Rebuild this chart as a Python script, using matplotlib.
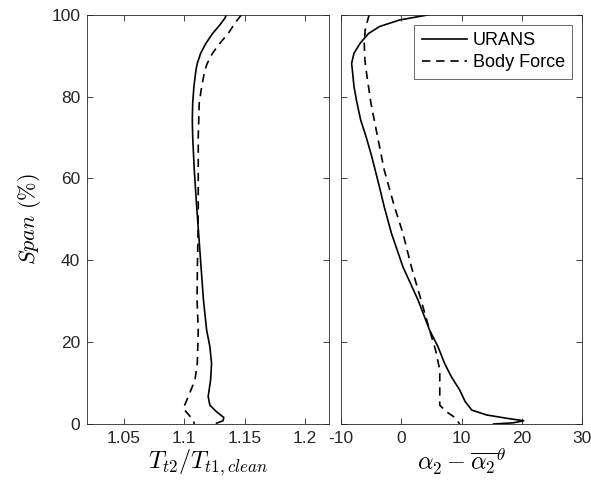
import matplotlib
matplotlib.use("Agg")
import matplotlib.pyplot as plt

plt.rcParams['font.family'] = ['Liberation Sans', 'DejaVu Sans']
plt.rcParams['mathtext.fontset'] = 'cm'
plt.rcParams['axes.unicode_minus'] = False

# Left panel: total temperature ratio
span_tt_urans = [100, 99.1, 97.5, 95.4, 93.0, 90.6, 88.1, 86.5, 82.4, 78.4, 74.3, 70.2, 62.1, 53.1, 46.6, 38.4, 30.3,
                 23.0, 18.9, 14.8, 10.8, 6.7, 4.6, 3.0, 1.6, 0.8, 0.2]
tt_urans = [1.135, 1.1336, 1.1295, 1.1235, 1.118, 1.1137, 1.1109, 1.1098, 1.1081, 1.1071, 1.1068, 1.1071, 1.1084,
            1.1104, 1.112, 1.114, 1.116, 1.1186, 1.1213, 1.1227, 1.1219, 1.1199, 1.1213, 1.1268, 1.1328, 1.1322, 1.1268]
span_tt_bf = [100, 97.9, 95.4, 93.0, 90.6, 88.1, 86.5, 82.4, 78.4, 70.2, 62.1, 53.1, 46.6, 38.4, 30.3,
              23.0, 14.8, 10.8, 6.7, 3.8, 2.2, 1.0, 0]
tt_bf = [1.1474, 1.1419, 1.1364, 1.1295, 1.1235, 1.1191, 1.1172, 1.1145, 1.1125, 1.1117, 1.1117, 1.1117,
         1.1115, 1.111, 1.1107, 1.1117, 1.1109, 1.109, 1.1035, 1.0993, 1.104, 1.1076, 1.1084]

# Right panel: flow angle deviation
span_a_urans = [100, 98.7, 97.1, 95.4, 93.0, 90.6, 88.1, 86.5, 82.4, 78.4, 74.3, 70.2, 66.1, 62.1, 58.0, 53.1,
                46.6, 38.4, 30.3, 23.0, 18.9, 14.8, 11.6, 8.3, 5.5, 3.4, 2.2, 1.4, 0.8, 0.3, 0]
a_urans = [4.6, -0.3, -3.6, -5.4, -6.8, -7.8, -8.2, -8.07, -7.8, -7.3, -6.7, -5.8, -5.0, -4.3, -3.6, -2.8,
           -1.6, 0.3, 2.8, 4.7, 6.1, 7.2, 8.3, 9.7, 10.6, 11.7, 14.2, 17.5, 20.3, 18.6, 15.3]
span_a_bf = [100, 96.3, 93.0, 89.0, 86.5, 78.4, 70.2, 62.1, 53.1, 46.6, 38.4, 30.3, 23.0, 18.1, 13.2,
             8.3, 4.6, 3.0, 1.6, 0]
a_bf = [-5.3, -5.95, -6.1, -6.0, -5.8, -5.0, -3.9, -2.8, -1.1, 0.3, 1.7, 3.3, 4.7, 5.7, 6.4,
        6.4, 6.4, 7.5, 8.9, 9.7]

left_ticks = [1.05, 1.1, 1.15, 1.2]
left_ticklabels = ['1.05', '1.1', '1.15', '1.2']
right_ticks = [-10, 0, 10, 20, 30]
y_ticks = [0, 20, 40, 60, 80, 100]

fig = plt.figure(figsize=(5.91, 4.88), dpi=100)
ax1 = fig.add_axes([0.1477, 0.1311, 0.4095, 0.8387])
ax2 = fig.add_axes([0.5765, 0.1311, 0.4088, 0.8387])

lw = 1.2
dash = (0, (5, 3.5))
ax1.plot(tt_urans, span_tt_urans, color='black', lw=lw)
ax1.plot(tt_bf, span_tt_bf, color='black', lw=lw, linestyle=dash)
ax2.plot(a_urans, span_a_urans, color='black', lw=lw, label='URANS')
ax2.plot(a_bf, span_a_bf, color='black', lw=lw, linestyle=dash, label='Body Force')

ax1.set_xlim(1.02, 1.22)
ax1.set_xticks(left_ticks)
ax1.set_xticklabels(left_ticklabels)
ax2.set_xlim(-10, 30)
ax2.set_xticks(right_ticks)
for ax in (ax1, ax2):
    ax.set_ylim(0, 100)
    ax.set_yticks(y_ticks)
    ax.tick_params(direction='in', top=True, right=True, length=4, width=0.6,
                   labelsize=12.5, colors='#262626', pad=5)
    for s in ax.spines.values():
        s.set_linewidth(0.6)
        s.set_color('#262626')
ax2.tick_params(labelleft=False)

ax1.set_ylabel(r'$Span\ (\%)$', fontsize=16, labelpad=6)
ax1.set_xlabel(r'$T_{t2}/T_{t1,clean}$', fontsize=17.5, labelpad=1)
ax2.set_xlabel(r'$\alpha_2-\overline{\alpha_2}^{\theta}$', fontsize=17.5, labelpad=1)

leg = ax2.legend(loc='upper right', fontsize=13, frameon=True, fancybox=False,
                 edgecolor='#262626', handlelength=2.5, handletextpad=0.35,
                 borderaxespad=0.55, borderpad=0.4, labelspacing=0.3)
leg.get_frame().set_linewidth(0.6)

fig.savefig('out.png', dpi=100)
